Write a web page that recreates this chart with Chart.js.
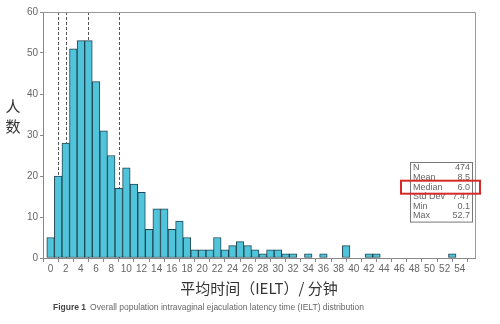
<!DOCTYPE html>
<html>
<head>
<meta charset="utf-8">
<script src="https://cdn.jsdelivr.net/npm/chart.js@4/dist/chart.umd.min.js"></script>
<style>
  html, body { margin: 0; padding: 0; background: #fff; }
  #wrap { position: relative; width: 500px; height: 324px; }
</style>
</head>
<body>
<div id="wrap"><canvas id="ieltChart" width="500" height="324"></canvas></div>
<script>
// IELT histogram, 1-minute bins centred on whole minutes
const minutes = [];
for (let m = 0; m <= 53; m++) minutes.push(m);
const counts = [
  5, 20, 28, 51, 53, 53, 43, 31, 25, 17,
  22, 18, 16, 7, 12, 12, 7, 9, 5, 2,
  2, 2, 5, 2, 3, 4, 3, 2, 1, 2,
  2, 1, 1, 0, 1, 0, 1, 0, 0, 3,
  0, 0, 1, 1, 0, 0, 0, 0, 0, 0,
  0, 0, 0, 1
];
const xTicks = [0, 2, 4, 6, 8, 10, 12, 14, 16, 18, 20, 22, 24, 26, 28, 30, 32, 34, 36, 38, 40, 42, 44, 46, 48, 50, 52, 54];
const yTicks = [0, 10, 20, 30, 40, 50, 60];
const refLines = [1, 2, 5, 9];
const statNames = ['N', 'Mean', 'Median', 'Std Dev', 'Min', 'Max'];
const statValues = ['474', '8.5', '6.0', '7.47', '0.1', '52.7'];
const highlightStat = 'Median';

const FONT = '"Liberation Sans", Arial, sans-serif';
const CJK = '"Noto Sans CJK SC", "Noto Sans", sans-serif';

// dashed markers behind the bars, frame and the annotations around the plot
const decorations = {
  id: 'decorations',
  beforeDatasetsDraw(chart) {
    const { ctx, chartArea: a, scales: { x } } = chart;
    ctx.save();
    ctx.strokeStyle = '#555';
    ctx.lineWidth = 1;
    ctx.setLineDash([3, 2]);
    refLines.forEach(v => {
      const px = Math.round(x.getPixelForValue(v)) + 0.5;
      ctx.beginPath();
      ctx.moveTo(px, a.top);
      ctx.lineTo(px, a.bottom);
      ctx.stroke();
    });
    ctx.restore();
  },
  afterDraw(chart) {
    const { ctx, chartArea: a } = chart;
    ctx.save();
    // top and right frame
    ctx.strokeStyle = '#999';
    ctx.lineWidth = 1;
    ctx.beginPath();
    ctx.moveTo(a.left, a.top + 0.5);
    ctx.lineTo(a.right + 0.5, a.top + 0.5);
    ctx.lineTo(a.right + 0.5, a.bottom);
    ctx.stroke();

    // statistics box
    const bx = 410, by = 162, bw = 62, lh = 9.6;
    const bh = statNames.length * lh + 2;
    ctx.strokeStyle = '#777';
    ctx.strokeRect(bx + 0.5, by + 0.5, bw, bh);
    ctx.font = '9px ' + FONT;
    ctx.fillStyle = '#666';
    ctx.textBaseline = 'middle';
    statNames.forEach((name, i) => {
      const cy = by + 6 + i * lh;
      ctx.textAlign = 'left';
      ctx.fillText(name, bx + 3, cy);
      ctx.textAlign = 'right';
      ctx.fillText(statValues[i], bx + bw - 2, cy);
    });
    const hi = statNames.indexOf(highlightStat);
    ctx.strokeStyle = '#d42a2a';
    ctx.lineWidth = 2;
    ctx.strokeRect(401, by + 6 + hi * lh - 6.5, 79, 13);

    // axis titles
    ctx.fillStyle = '#333';
    ctx.font = '15px ' + CJK;
    ctx.textAlign = 'center';
    ctx.fillText('人', 13, 106);
    ctx.fillText('数', 13, 126);
    ctx.fillText('平均时间（IELT）/ 分钟', (a.left + a.right) / 2, 288);

    // caption
    ctx.textAlign = 'left';
    ctx.font = 'bold 8.5px ' + FONT;
    ctx.fillStyle = '#444';
    ctx.fillText('Figure 1', 53, 308);
    const w = ctx.measureText('Figure 1').width;
    ctx.font = '8.5px ' + FONT;
    ctx.fillStyle = '#666';
    ctx.fillText('Overall population intravaginal ejaculation latency time (IELT) distribution', 53 + w + 4, 308);
    ctx.restore();
  }
};

new Chart(document.getElementById('ieltChart'), {
  type: 'bar',
  data: {
    datasets: [{
      data: minutes.map((m, i) => ({ x: m, y: counts[i] })),
      backgroundColor: '#4fc4da',
      borderColor: '#234652',
      borderWidth: 1,
      borderSkipped: false,
      barPercentage: 1,
      categoryPercentage: 1
    }]
  },
  options: {
    responsive: false,
    animation: false,
    layout: { padding: { top: 12, right: 25, left: 0, bottom: 0 } },
    plugins: { legend: { display: false }, tooltip: { enabled: false } },
    scales: {
      x: {
        type: 'linear',
        min: -1,
        max: 56,
        offset: false,
        afterBuildTicks: s => { s.ticks = xTicks.map(v => ({ value: v })); },
        afterFit: s => { s.height = 66; },
        grid: { drawOnChartArea: false, drawTicks: true, tickLength: 4, color: '#888' },
        border: { color: '#888', width: 1 },
        ticks: { color: '#666', font: { family: FONT, size: 10 }, padding: 1, maxRotation: 0, autoSkip: false }
      },
      y: {
        min: 0,
        max: 60,
        afterBuildTicks: s => { s.ticks = yTicks.map(v => ({ value: v })); },
        afterFit: s => { s.width = 43; },
        grid: { drawOnChartArea: false, drawTicks: true, tickLength: 3, color: '#888' },
        border: { color: '#888', width: 1 },
        ticks: { color: '#666', font: { family: FONT, size: 10 }, padding: 2 }
      }
    }
  },
  plugins: [decorations]
});
</script>
</body>
</html>
